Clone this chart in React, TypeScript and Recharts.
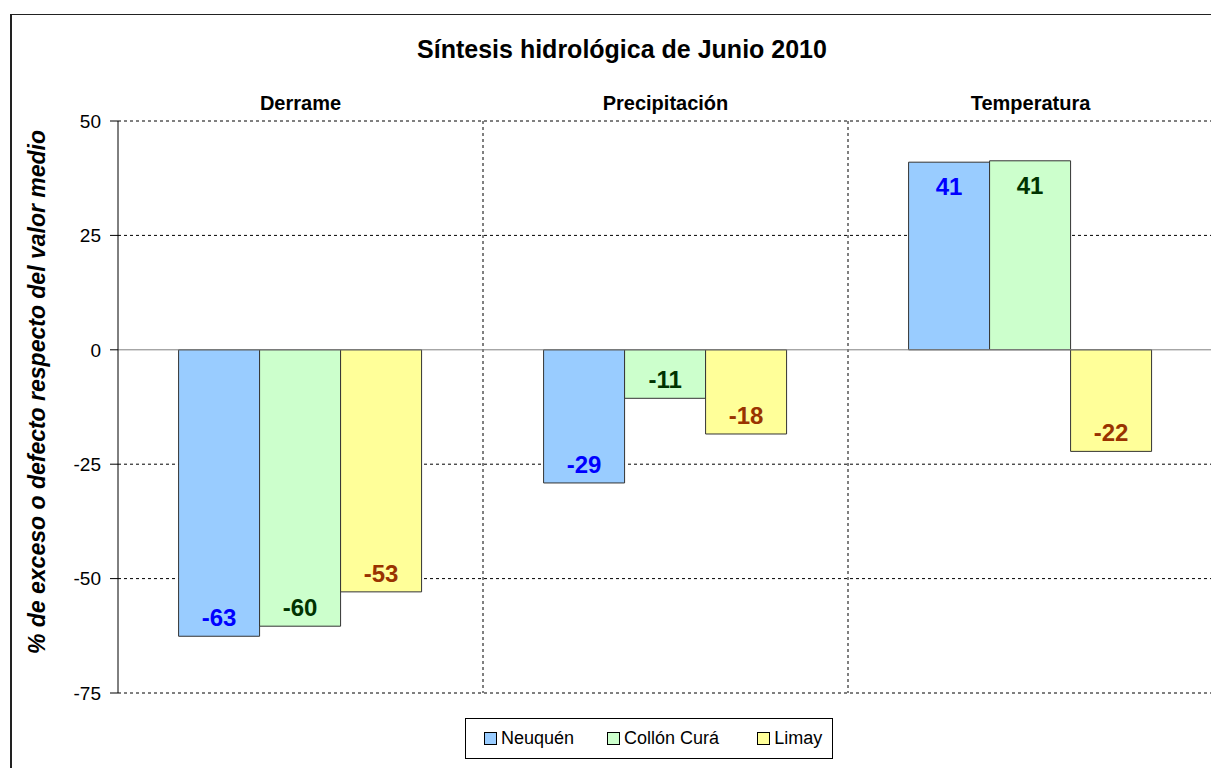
import React from 'react';
import {
  BarChart,
  Bar,
  XAxis,
  YAxis,
  CartesianGrid,
  ReferenceLine,
  LabelList,
} from 'recharts';

const categories = ['Derrame', 'Precipitación', 'Temperatura'];
const neuquen = [-62.6, -29.1, 41.0];
const collonCura = [-60.4, -10.6, 41.3];
const limay = [-52.9, -18.4, -22.2];
const yTicks = [-75, -50, -25, 0, 25, 50];

const seriesInfo = [
  { key: 'neuquen', name: 'Neuquén', fill: '#99CCFF', label: '#0000FF' },
  { key: 'collon', name: 'Collón Curá', fill: '#CCFFCC', label: '#003300' },
  { key: 'limay', name: 'Limay', fill: '#FFFF99', label: '#993300' },
];

const data = categories.map((c, i) => ({
  category: c,
  neuquen: neuquen[i],
  collon: collonCura[i],
  limay: limay[i],
}));

const FONT = 'Arial, "Liberation Sans", sans-serif';

// value label sits inside the bar, near its far end
const makeLabel = (color: string) => (props: any) => {
  const { x, y, width, height, value } = props;
  const top = Math.min(y, y + height);
  const bottom = Math.max(y, y + height);
  const cx = x + width / 2;
  const ty = value < 0 ? bottom - 10 : top + 33;
  return (
    <text
      x={cx}
      y={ty}
      textAnchor="middle"
      fill={color}
      fontFamily={FONT}
      fontWeight="bold"
      fontSize={24}
    >
      {Math.round(value)}
    </text>
  );
};

const CategoryTick = (props: any) => {
  const { x, y, payload } = props;
  return (
    <text
      x={x}
      y={y}
      dy={-3}
      textAnchor="middle"
      fill="#000"
      fontFamily={FONT}
      fontWeight="bold"
      fontSize={20}
    >
      {payload.value}
    </text>
  );
};

const LegendBox = () => (
  <div
    style={{
      position: 'absolute',
      left: 465,
      top: 718,
      border: '1px solid #000',
      width: 368,
      height: 41,
      display: 'flex',
      alignItems: 'center',
      fontFamily: FONT,
      fontSize: 18,
      color: '#000',
      boxSizing: 'border-box',
      background: '#fff',
    }}
  >
    {seriesInfo.map((s, i) => (
      <div
        key={s.key}
        style={{
          display: 'flex',
          alignItems: 'center',
          marginLeft: i === 0 ? 18 : i === 1 ? 33 : 38,
        }}
      >
        <span
          style={{
            display: 'inline-block',
            width: 11,
            height: 11,
            background: s.fill,
            border: '1px solid #000',
            marginRight: 4,
          }}
        />
        <span>{s.name}</span>
      </div>
    ))}
  </div>
);

export default function App() {
  return (
    <div
      style={{
        position: 'fixed',
        left: 0,
        top: 0,
        width: 1211,
        height: 768,
        overflow: 'hidden',
        background: '#fff',
      }}
    >
      <div
        style={{
          position: 'absolute',
          left: 10,
          top: 14,
          width: 1260,
          height: 800,
          borderLeft: '2px solid #222',
          borderTop: '1px solid #222',
        }}
      />
      <div
        style={{
          position: 'absolute',
          left: 0,
          top: 35,
          width: 1244,
          textAlign: 'center',
          fontFamily: FONT,
          fontWeight: 'bold',
          fontSize: 25,
          color: '#000',
        }}
      >
        Síntesis hidrológica de Junio 2010
      </div>
      <div style={{ position: 'absolute', left: 0, top: 0 }}>
        <BarChart
          width={1240}
          height={768}
          data={data}
          margin={{ top: 91, right: 27, bottom: 75, left: 68 }}
          barCategoryGap="16.6%"
          barGap={0}
        >
          <CartesianGrid
            stroke="#000"
            strokeDasharray="3 3"
            horizontalValues={[-75, -50, -25, 25, 50]}
            verticalCoordinatesGenerator={({ offset }: any) =>
              categories.slice(1).map((_, i) => offset.left + ((i + 1) * offset.width) / categories.length)
            }
          />
          <XAxis
            dataKey="category"
            orientation="top"
            height={30}
            axisLine={false}
            tickLine={false}
            tick={<CategoryTick />}
          />
          <YAxis
            type="number"
            domain={[-75, 50]}
            ticks={yTicks}
            width={50}
            interval={0}
            tickSize={8}
            tickMargin={9}
            axisLine={{ stroke: '#000' }}
            tickLine={{ stroke: '#000' }}
            tick={{ fill: '#000', fontSize: 19, fontFamily: FONT }}
            label={{
              value: '% de exceso o defecto respecto del valor medio',
              angle: -90,
              position: 'insideLeft',
              offset: -31,
              dy: -15,
              style: {
                textAnchor: 'middle',
                fontFamily: FONT,
                fontWeight: 'bold',
                fontStyle: 'italic',
                fontSize: 23,
                fill: '#000',
              },
            }}
          />
          <ReferenceLine y={0} stroke="#808080" strokeWidth={1} />
          {seriesInfo.map((s) => (
            <Bar
              key={s.key}
              dataKey={s.key}
              name={s.name}
              fill={s.fill}
              stroke="#333"
              strokeWidth={1}
              isAnimationActive={false}
            >
              <LabelList dataKey={s.key} content={makeLabel(s.label)} />
            </Bar>
          ))}
        </BarChart>
      </div>
      <LegendBox />
    </div>
  );
}
